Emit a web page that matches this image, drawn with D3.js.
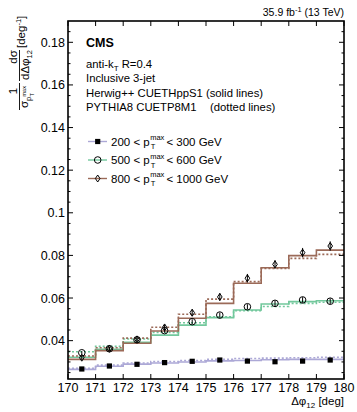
<!DOCTYPE html>
<html><head><meta charset="utf-8">
<script src="https://cdn.jsdelivr.net/npm/d3@7"></script>
<style>
html,body{margin:0;padding:0;background:#fff;}
svg{display:block;font-family:"Liberation Sans",Arial,sans-serif;}
</style></head>
<body><svg id="c" width="357" height="412"></svg>
<script>
// ---- data ----
const binCenters = [170.5,171.5,172.5,173.5,174.5,175.5,176.5,177.5,178.5,179.5];
const dataLow  = [0.0267,0.0281,0.0289,0.0297,0.0303,0.0309,0.0304,0.0301,0.0304,0.0309];
const dataMid  = [0.0343,0.0362,0.0404,0.0447,0.0489,0.0520,0.0559,0.0575,0.0591,0.0585];
const dataHigh = [0.0320,0.0362,0.0406,0.0462,0.0531,0.0605,0.0693,0.0758,0.0813,0.0844];
const errLow  = [0.0005,0.0005,0.0005,0.0005,0.0005,0.0005,0.0005,0.0005,0.0005,0.0005];
const errMid  = [0.0008,0.0008,0.0009,0.0010,0.0011,0.0012,0.0012,0.0013,0.0013,0.0013];
const errHigh = [0.0010,0.0010,0.0012,0.0014,0.0016,0.0018,0.0020,0.0020,0.0022,0.0022];
const herwigLow  = [0.0265,0.0280,0.0290,0.0295,0.0300,0.0305,0.0307,0.0310,0.0312,0.0312];
const herwigMid  = [0.0322,0.0359,0.0392,0.0426,0.0473,0.0508,0.0544,0.0572,0.0583,0.0587];
const herwigHigh = [0.0312,0.0353,0.0388,0.0445,0.0505,0.0575,0.0669,0.0742,0.0799,0.0825];
const pythiaLow  = [0.0270,0.0285,0.0295,0.0302,0.0307,0.0312,0.0316,0.0318,0.0320,0.0322];
const pythiaMid  = [0.0348,0.0373,0.0408,0.0439,0.0484,0.0512,0.0540,0.0560,0.0575,0.0580];
const pythiaHigh = [0.0328,0.0367,0.0412,0.0463,0.0524,0.0595,0.0677,0.0739,0.0786,0.0805];
const xTicks = [170,171,172,173,174,175,176,177,178,179,180];
const yTicks = [0.04,0.06,0.08,0.1,0.12,0.14,0.16,0.18];
const yMinorTicks = [0.025,0.03,0.035,0.045,0.05,0.055,0.065,0.07,0.075,0.085,0.09,0.095,0.105,0.11,0.115,0.125,0.13,0.135,0.145,0.15,0.155,0.165,0.17,0.175,0.185];
const legendLabels = [["200","300"],["500","600"],["800","1000"]];
const colors = ["#aca8d6","#72c89c","#9b6a58"];

// ---- layout ----
const L=68, R=344, T=21, B=379;
const svg = d3.select("#c");
const x = d3.scaleLinear().domain([170,180]).range([L,R]);
const y = d3.scaleLinear().domain([0.022,0.19]).range([B,T]);

const series = [
  {data:dataLow, err:errLow, h:herwigLow, p:pythiaLow, marker:"square"},
  {data:dataMid, err:errMid, h:herwigMid, p:pythiaMid, marker:"circle"},
  {data:dataHigh, err:errHigh, h:herwigHigh, p:pythiaHigh, marker:"diamond"}
];

const stepLine = d3.line().x(d=>x(d[0])).y(d=>y(d[1])).curve(d3.curveStepAfter);
function stepPts(vals){
  const pts = binCenters.map((c,i)=>[c-0.5, vals[i]]);
  pts.push([binCenters[binCenters.length-1]+0.5, vals[vals.length-1]]);
  return pts;
}

const plot = svg.append("g");
series.forEach((s,i)=>{
  plot.append("path").attr("d",stepLine(stepPts(s.h))).attr("fill","none")
    .attr("stroke",colors[i]).attr("stroke-width",1.6);
  plot.append("path").attr("d",stepLine(stepPts(s.p))).attr("fill","none")
    .attr("stroke",colors[i]).attr("stroke-width",1.6).attr("stroke-dasharray","2,2");
});

function drawMarker(g, type, cx, cy){
  if(type==="square"){
    g.append("rect").attr("x",cx-2.6).attr("y",cy-2.6).attr("width",5.2).attr("height",5.2).attr("fill","#000");
  } else if(type==="circle"){
    g.append("circle").attr("cx",cx).attr("cy",cy).attr("r",3.3).attr("fill","none").attr("stroke","#000").attr("stroke-width",1);
  } else {
    g.append("path").attr("d",`M${cx},${cy-3.5}L${cx+2.3},${cy}L${cx},${cy+3.5}L${cx-2.3},${cy}Z`)
      .attr("fill","none").attr("stroke","#000").attr("stroke-width",1);
  }
}
series.forEach((s,i)=>{
  const g = plot.append("g");
  s.data.forEach((v,j)=>{
    const cx = x(binCenters[j]);
    g.append("line").attr("x1",cx).attr("x2",cx).attr("y1",y(v-s.err[j])).attr("y2",y(v+s.err[j]))
      .attr("stroke","#000").attr("stroke-width",1);
    drawMarker(g, s.marker, cx, y(v));
  });
});

// frame
const ax = svg.append("g").attr("stroke","#000").attr("fill","none");
ax.append("rect").attr("x",L).attr("y",T).attr("width",R-L).attr("height",B-T).attr("stroke-width",1.6);
xTicks.forEach(t=>{
  ax.append("line").attr("x1",x(t)).attr("x2",x(t)).attr("y1",B).attr("y2",B-5).attr("stroke-width",1);
  ax.append("line").attr("x1",x(t)).attr("x2",x(t)).attr("y1",T).attr("y2",T+5).attr("stroke-width",1);
});
yTicks.forEach(t=>{
  ax.append("line").attr("x1",L).attr("x2",L+5).attr("y1",y(t)).attr("y2",y(t)).attr("stroke-width",1);
  ax.append("line").attr("x1",R).attr("x2",R-5).attr("y1",y(t)).attr("y2",y(t)).attr("stroke-width",1);
});
yMinorTicks.forEach(t=>{
  ax.append("line").attr("x1",L).attr("x2",L+2.5).attr("y1",y(t)).attr("y2",y(t)).attr("stroke-width",1);
  ax.append("line").attr("x1",R).attr("x2",R-2.5).attr("y1",y(t)).attr("y2",y(t)).attr("stroke-width",1);
});
const txt = svg.append("g").attr("fill","#000");
xTicks.forEach(t=>{
  txt.append("text").attr("x",x(t)).attr("y",392).attr("text-anchor","middle")
    .attr("font-size",12.5).text(t);
});
yTicks.forEach(t=>{
  txt.append("text").attr("x",L-3).attr("y",y(t)+4.5).attr("text-anchor","end")
    .attr("font-size",12.5).text(String(+t.toFixed(2)));
});

const xl = txt.append("text").attr("x",R).attr("y",405).attr("text-anchor","end").attr("font-size",11.5);
xl.append("tspan").text("Δφ");
xl.append("tspan").attr("font-size",8).attr("dy",3).text("12");
xl.append("tspan").attr("dy",-3).text(" [deg]");

const yl = txt.append("g").attr("transform","rotate(-90)").attr("font-size",11.5);
yl.append("text").attr("x",-91).attr("y",17).attr("text-anchor","middle").text("1");
yl.append("line").attr("x1",-110).attr("x2",-83).attr("y1",19.5).attr("y2",19.5).attr("stroke","#000").attr("stroke-width",0.9);
yl.append("text").attr("x",-108).attr("y",28).text("σ");
yl.append("text").attr("x",-101).attr("y",31).attr("font-size",7.5).text("p");
yl.append("text").attr("x",-96.5).attr("y",34).attr("font-size",5.5).text("T");
yl.append("text").attr("x",-96.5).attr("y",26).attr("font-size",5.5).text("max");
yl.append("text").attr("x",-57).attr("y",17).attr("text-anchor","middle").text("dσ");
yl.append("line").attr("x1",-81).attr("x2",-50).attr("y1",19.5).attr("y2",19.5).attr("stroke","#000").attr("stroke-width",0.9);
const dd = yl.append("text").attr("x",-80).attr("y",29);
dd.append("tspan").text("dΔφ");
dd.append("tspan").attr("font-size",7.5).attr("dy",3).text("12");
const dg = yl.append("text").attr("x",-48).attr("y",25);
dg.append("tspan").text("[deg");
dg.append("tspan").attr("font-size",7.5).attr("dy",-4).text("-1");
dg.append("tspan").attr("dy",4).text("]");

const lumi = txt.append("text").attr("x",R).attr("y",16).attr("text-anchor","end").attr("font-size",10.5);
lumi.append("tspan").text("35.9 fb");
lumi.append("tspan").attr("font-size",7.5).attr("dy",-4).text("-1");
lumi.append("tspan").attr("dy",4).text(" (13 TeV)");

txt.append("text").attr("x",86).attr("y",47).attr("font-size",12.5).attr("font-weight","bold").text("CMS");
const ak = txt.append("text").attr("x",86).attr("y",68).attr("font-size",11.3);
ak.append("tspan").text("anti-k");
ak.append("tspan").attr("font-size",8).attr("dy",3).text("T");
ak.append("tspan").attr("dy",-3).text(" R=0.4");
txt.append("text").attr("x",86).attr("y",82).attr("font-size",11.3).text("Inclusive 3-jet");
txt.append("text").attr("x",86).attr("y",97).attr("font-size",11.3).text("Herwig++ CUETHppS1 (solid lines)");
txt.append("text").attr("x",86).attr("y",111).attr("font-size",11.3).text("PYTHIA8 CUETP8M1");
txt.append("text").attr("x",210).attr("y",111).attr("font-size",11.3).text("(dotted lines)");

const legY = [141.5, 160, 178.5];
legendLabels.forEach((lab,i)=>{
  const g = svg.append("g");
  const ly = legY[i];
  g.append("line").attr("x1",88).attr("x2",107).attr("y1",ly).attr("y2",ly).attr("stroke",colors[i]).attr("stroke-width",1.4);
  drawMarker(g, series[i].marker, 97.7, ly);
  const t1 = g.append("text").attr("x",111).attr("y",ly+4).attr("font-size",11.5).text(lab[0]+" < p");
  const w1 = t1.node().getComputedTextLength();
  const tm = g.append("text").attr("x",111+w1+0.5).attr("y",ly-1.5).attr("font-size",7.5).text("max");
  g.append("text").attr("x",111+w1+1).attr("y",ly+7.5).attr("font-size",7.5).text("T");
  const wm = tm.node().getComputedTextLength();
  g.append("text").attr("x",111+w1+wm+2.5).attr("y",ly+4).attr("font-size",11.5).text("< "+lab[1]+" GeV");
});
</script></body></html>
